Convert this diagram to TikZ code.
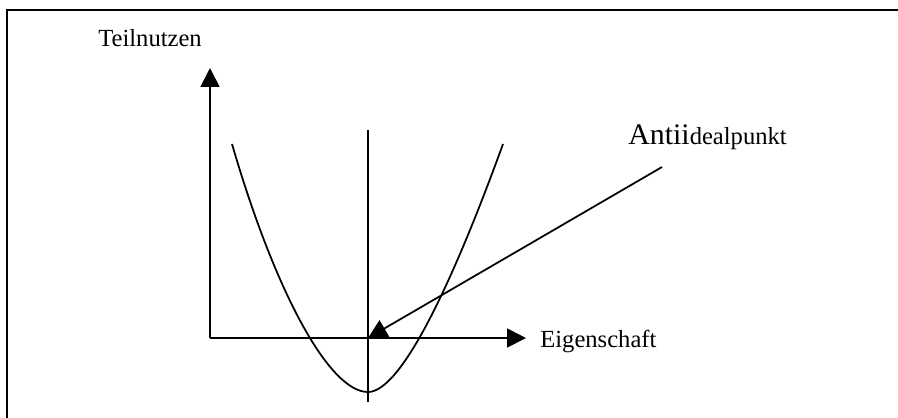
\documentclass[tikz,border=0pt]{standalone}
\usepackage{fontspec}
\setmainfont{Liberation Serif}
\usetikzlibrary{arrows.meta}
\tikzset{
  axis/.style={line width=1pt, -{Triangle[length=10.8pt, width=10.8pt]}},
  curve/.style={line width=1pt},
  lbl/.style={font=\fontsize{14}{16}\selectfont, inner sep=0pt, anchor=base}
}

\begin{document}
\begin{tikzpicture}[x=0.02cm, y=-0.02cm]
  \useasboundingbox (0,0) rectangle (898,417);
  \clip (0,0) rectangle (898,417);
  \draw[line width=1.3pt] (7,10) rectangle (910,430);

  % axes
  \coordinate (O) at (210,338);
  \coordinate (ytip) at (210,68);
  \coordinate (xtip) at (526,338);
  \draw[axis] (O) -- (ytip);
  \draw[axis] (O) -- (xtip);
  \node[lbl] (ylabel) at (150,46) {Teilnutzen};
  \node[lbl, anchor=base west] (xlabel) at (540,347) {Eigenschaft};

  % symmetry line and utility curve
  \coordinate (top) at (368,130);
  \coordinate (bottom) at (368,402);
  \draw[curve] (top) -- (bottom);
  \draw[curve] (232,144) .. controls (276,295) and (330,392) .. (368,392)
    .. controls (400,392) and (450,290) .. (503,144);

  % anti-ideal point
  \coordinate (anti) at (368,338);
  \coordinate (astart) at (662,167);
  \draw[axis] (astart) -- (anti);
  \node[lbl, anchor=base west] (alabel) at (628,144) {{\fontsize{17}{20}\selectfont Antii}dealpunkt};
\end{tikzpicture}
\end{document}
